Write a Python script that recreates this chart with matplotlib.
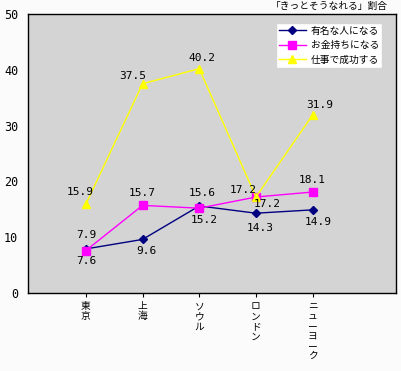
import matplotlib
matplotlib.use("Agg")
import matplotlib.pyplot as plt

plt.rcParams['font.family'] = ['Noto Sans CJK JP', 'DejaVu Sans']

# データ
cities = ['東京', '上海', 'ソウル', 'ロンドン', 'ニューヨーク']
famous = [7.9, 9.6, 15.6, 14.3, 14.9]     # 有名な人になる
rich = [7.6, 15.7, 15.2, 17.2, 18.1]      # お金持ちになる
success = [15.9, 37.5, 40.2, 17.2, 31.9]  # 仕事で成功する
series_names = ['有名な人になる', 'お金持ちになる', '仕事で成功する']
title = '「きっとそうなれる」割合'

# ラベルのずらし (ピクセル単位)
off_famous = [(1, 14), (4, -12), (3, 13), (4, -15), (6, -12)]
off_rich = [(1, -10), (0, 12), (5, -12), (-13, 7), (0, 12)]
off_success = [(-6, 12), (-10, 8), (3, 11), (11, -7), (7, 10)]

fig = plt.figure(figsize=(4.02, 3.71), dpi=100, facecolor='#fbfbfb')
ax = fig.add_axes([28/402, 1 - 293/371, (396-28)/402, (293-14)/371])
ax.set_facecolor('#d4d4d4')

x = list(range(len(cities)))
ax.plot(x, famous, color='#000080', marker='D', markersize=4, lw=1, label=series_names[0], zorder=3)
ax.plot(x, rich, color='#ff00ff', marker='s', markersize=6, lw=1, label=series_names[1], zorder=4)
ax.plot(x, success, color='#ffff00', marker='^', markersize=6, lw=1, label=series_names[2], zorder=5)

for vals, offs in [(famous, off_famous), (rich, off_rich), (success, off_success)]:
    for i, v in enumerate(vals):
        ax.annotate(f'{v:.1f}', (i, v), xytext=offs[i], textcoords='offset pixels',
                    ha='center', va='center', fontsize=8, family='DejaVu Sans Mono', zorder=6)

ax.set_xlim(-1.02, 5.47)
ax.set_ylim(0, 50)
ax.set_yticks([0, 10, 20, 30, 40, 50])
ax.set_xticks(x)
ax.set_xticklabels(['\n'.join(c) for c in cities], fontsize=7, linespacing=1.0, va='top')
ax.tick_params(axis='x', length=3, direction='out', pad=3)
ax.tick_params(axis='y', length=0, pad=7, labelsize=8.5)
for lab in ax.get_yticklabels():
    lab.set_family('DejaVu Sans Mono')
for sp in ax.spines.values():
    sp.set_linewidth(1)

leg = ax.legend(loc='upper right', bbox_to_anchor=(0.962, 0.968), fontsize=7, frameon=True,
                fancybox=False, edgecolor='#d4d4d4', facecolor='white', framealpha=1,
                handlelength=2.8, handletextpad=0.5, borderpad=0.3, labelspacing=0.45,
                borderaxespad=0)

fig.text(388/402, 1 - 6/371, title, ha='right', va='center', fontsize=7)

fig.savefig('out.png', dpi=100, facecolor=fig.get_facecolor())
